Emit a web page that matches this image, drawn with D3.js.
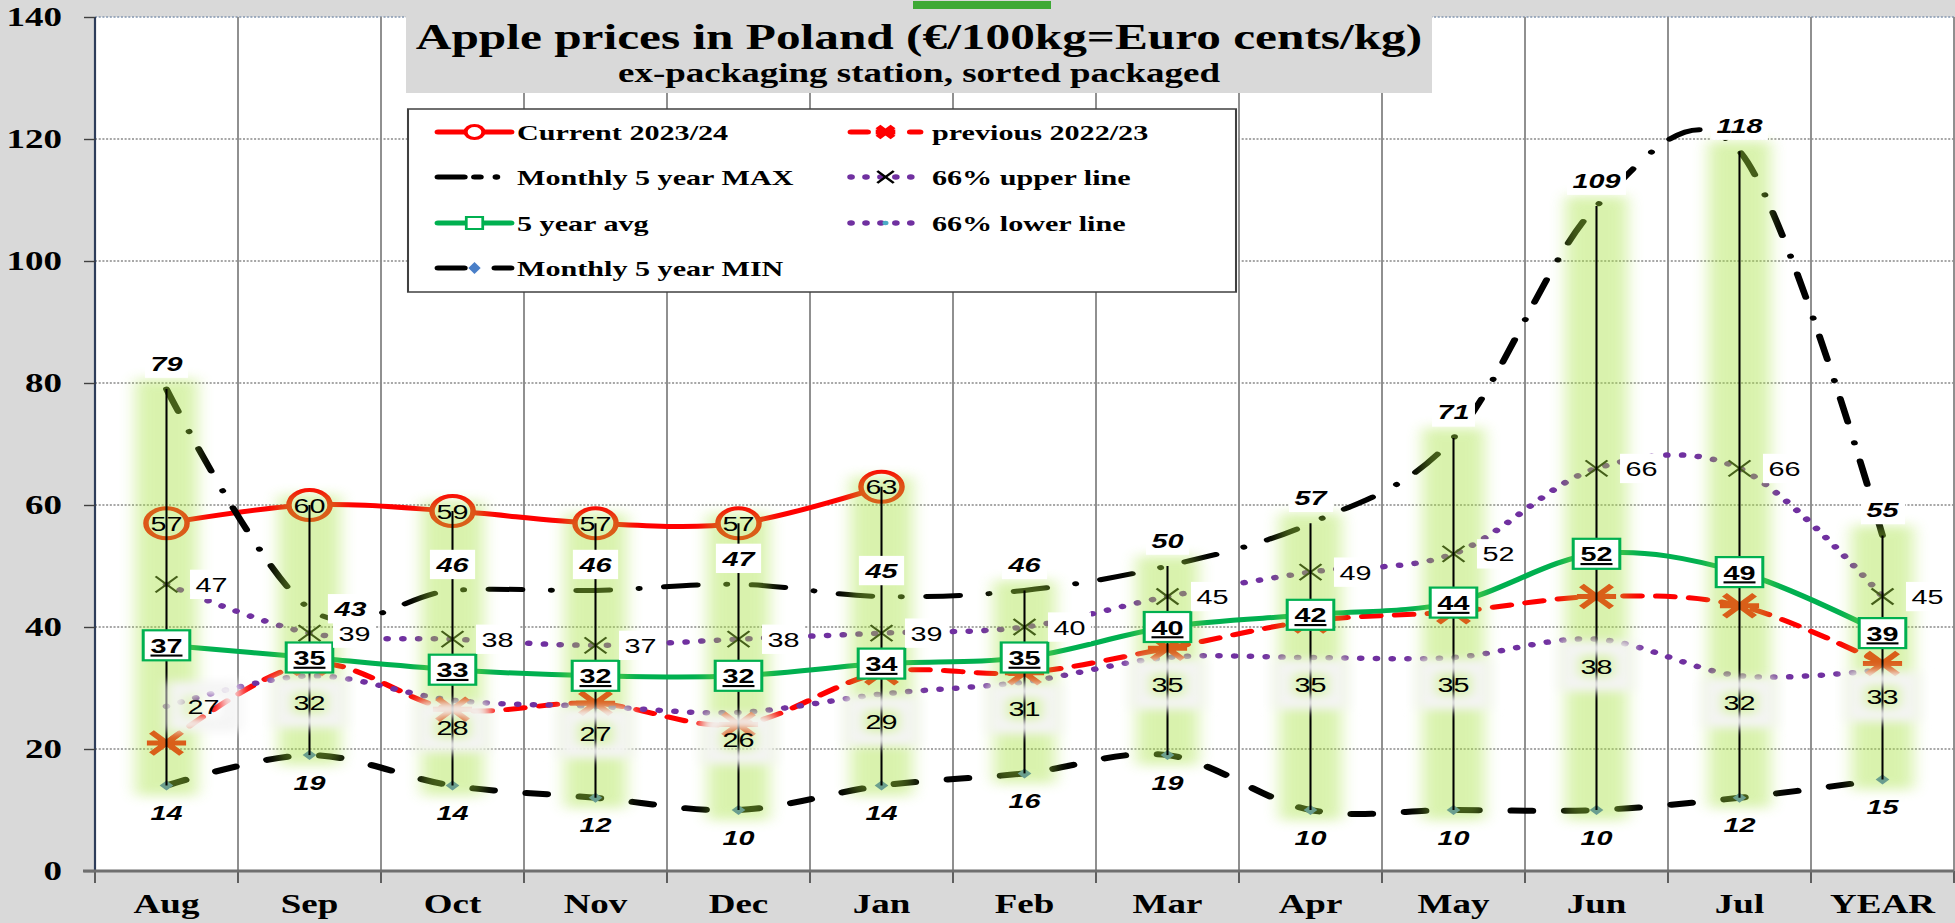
<!DOCTYPE html>
<html>
<head>
<meta charset="utf-8">
<script src="https://cdn.jsdelivr.net/npm/d3@7"></script>
<style>
  html, body { margin: 0; padding: 0; background: #d9d9d9; }
  svg { display: block; }
</style>
</head>
<body>
<svg id="chart"></svg>
<script>
// ---- data ----
const categories = ["Aug", "Sep", "Oct", "Nov", "Dec", "Jan", "Feb", "Mar", "Apr", "May", "Jun", "Jul", "YEAR"];
const current  = [57, 60, 59, 57, 57, 63, null, null, null, null, null, null, null];
const previous = [21, 34, 26.5, 27.5, 24, 32.5, 32.5, 36.5, 41, 42.5, 45, 43.5, 34];
const max5     = [79, 43, 46, 46, 47, 45, 46, 50, 57, 71, 109, 118, 55];
const avg5     = [37, 35, 33, 32, 32, 34, 35, 40, 42, 44, 52, 49, 39];
const min5     = [14, 19, 14, 12, 10, 14, 16, 19, 10, 10, 10, 12, 15];
const upper66  = [47, 39, 38, 37, 38, 39, 40, 45, 49, 52, 66, 66, 45];
const lower66  = [27, 32, 28, 27, 26, 29, 31, 35, 35, 35, 38, 32, 33];
const yTicks = [0, 20, 40, 60, 80, 100, 120, 140];

const titleText = "Apple prices in Poland (€/100kg=Euro cents/kg)";
const subtitleText = "ex-packaging station, sorted packaged";

// labels that sit to the right of their point instead of above/below
const maxRight = ["Sep"];
const lowerRight = ["Aug"];

// ---- layout ----
const W = 1955, H = 923;
const S = 1.37;              // the whole chart is stretched horizontally
const px = v => v / S;       // full-width pixels -> units inside the stretched group
const plotL = 95, plotR = 1954, plotT = 17, plotB = 871;
const serif = "'Liberation Serif','Times New Roman',serif";
const sans = "'Liberation Sans',Arial,sans-serif";

const svg = d3.select("#chart").attr("width", W).attr("height", H);
svg.append("rect").attr("width", W).attr("height", H).attr("fill", "#d9d9d9");

const defs = svg.append("defs");
defs.append("filter").attr("id", "glow")
  .attr("filterUnits", "userSpaceOnUse")
  .attr("x", 0).attr("y", 0).attr("width", px(W)).attr("height", H)
  .append("feGaussianBlur").attr("stdDeviation", "6 6");
defs.append("filter").attr("id", "halo")
  .attr("x", "-60%").attr("y", "-60%").attr("width", "220%").attr("height", "220%")
  .append("feGaussianBlur").attr("stdDeviation", "5 5");

const g = svg.append("g").attr("transform", `scale(${S},1)`);

const x = d3.scaleBand().domain(categories).range([px(plotL), px(plotR)]);
const cx = c => x(c) + x.bandwidth() / 2;
const y = d3.scaleLinear().domain([0, 140]).range([plotB, plotT]);

// plot area
g.append("rect")
  .attr("x", px(plotL)).attr("y", plotT)
  .attr("width", px(plotR - plotL)).attr("height", plotB - plotT)
  .attr("fill", "#fff");

// horizontal grid
g.append("g").selectAll("line")
  .data(yTicks.filter(t => t > 0))
  .join("line")
  .attr("x1", px(plotL)).attr("x2", px(plotR))
  .attr("y1", d => y(d)).attr("y2", d => y(d))
  .attr("stroke", d => d === 140 ? "#8497b0" : "#505050")
  .attr("stroke-width", d => d === 140 ? 1.6 : 1.1)
  .attr("stroke-dasharray", "1.5 1.2");

// vertical grid at category boundaries
const bounds = d3.range(categories.length + 1).map(i => x.range()[0] + i * x.step());
g.append("g").selectAll("line")
  .data(bounds.slice(1))
  .join("line")
  .attr("x1", d => d).attr("x2", d => d)
  .attr("y1", plotT).attr("y2", plotB)
  .attr("stroke", "#8c8c8c").attr("stroke-width", 1.4);

// left axis line
g.append("line")
  .attr("x1", px(plotL)).attr("x2", px(plotL))
  .attr("y1", plotT).attr("y2", plotB)
  .attr("stroke", "#2e3d5a").attr("stroke-width", 1.6);

// y axis
g.append("g")
  .attr("transform", `translate(${px(plotL)},0)`)
  .call(d3.axisLeft(y).tickValues(yTicks).tickSize(px(11)).tickPadding(px(22)))
  .call(a => a.select(".domain").remove())
  .call(a => a.selectAll("line").attr("stroke", "#404040").attr("stroke-width", 1.4))
  .call(a => a.selectAll("text")
    .attr("font-family", serif).attr("font-weight", "bold")
    .attr("font-size", 27).attr("fill", "#000"));

// x axis
g.append("g")
  .attr("transform", `translate(0,${plotB})`)
  .call(d3.axisBottom(x).tickSize(0).tickPadding(23))
  .call(a => a.select(".domain").remove())
  .call(a => a.selectAll("text")
    .attr("font-family", serif).attr("font-weight", "bold")
    .attr("font-size", 27).attr("fill", "#000"));
g.append("g").selectAll("line")
  .data(bounds)
  .join("line")
  .attr("x1", d => d).attr("x2", d => d)
  .attr("y1", plotB).attr("y2", plotB + 12)
  .attr("stroke", "#595959").attr("stroke-width", 1.4);
g.append("line")
  .attr("x1", px(plotL - 12)).attr("x2", px(plotR))
  .attr("y1", plotB).attr("y2", plotB)
  .attr("stroke", "#6f6f6f").attr("stroke-width", 3);

// title box over the plot
g.append("rect")
  .attr("x", px(406)).attr("y", 0)
  .attr("width", px(1432 - 406)).attr("height", 93)
  .attr("fill", "#d9d9d9");
g.append("rect")
  .attr("x", px(913)).attr("y", 1)
  .attr("width", px(1051 - 913)).attr("height", 8)
  .attr("fill", "#3ea935");

// ---- series lines ----
const lineGen = d3.line()
  .defined(d => d[1] != null)
  .x(d => cx(d[0])).y(d => y(d[1]))
  .curve(d3.curveCardinal.tension(0));
const pts = vals => categories.map((c, i) => [c, vals[i]]);

const lineStyles = [
  { vals: current,  color: "#ff0000", w: 5 },
  { vals: previous, color: "#ff0000", w: 5, dash: "13 11", cap: "round" },
  { vals: lower66,  color: "#7030a0", w: 5.5, dash: "0.1 11.4", cap: "round" },
  { vals: upper66,  color: "#7030a0", w: 5.5, dash: "0.1 11.4", cap: "round" },
  { vals: avg5,     color: "#00b050", w: 5 },
  { vals: max5,     color: "#000",    w: 5, dash: "24 21.5 0.1 18.5", cap: "round" },
  { vals: min5,     color: "#000",    w: 6, dash: "15 24", cap: "round" }
];
g.append("g").selectAll("path")
  .data(lineStyles)
  .join("path")
  .attr("d", d => lineGen(pts(d.vals)))
  .attr("fill", "none")
  .attr("stroke", d => d.color)
  .attr("stroke-width", d => d.w)
  .attr("stroke-dasharray", d => d.dash || null)
  .attr("stroke-linecap", d => d.cap || "butt");

// ---- markers ----
const markers = g.append("g");
markers.selectAll(".cur")
  .data(pts(current).filter(d => d[1] != null))
  .join("circle").attr("class", "cur")
  .attr("cx", d => cx(d[0])).attr("cy", d => y(d[1])).attr("r", 15)
  .attr("fill", "#fff").attr("stroke", "#ff0000").attr("stroke-width", 4);

const star = r => `M${-r},${-r}L${r},${r}M${-r},${r}L${r},${-r}M${-r * 1.3},0L${r * 1.3},0`;
markers.selectAll(".prev")
  .data(pts(previous))
  .join("path").attr("class", "prev")
  .attr("transform", d => `translate(${cx(d[0])},${y(d[1])})`)
  .attr("d", star(11))
  .attr("stroke", "#ff0000").attr("stroke-width", 5).attr("fill", "none");

const cross = r => `M${-r},${-r}L${r},${r}M${-r},${r}L${r},${-r}`;
markers.selectAll(".up")
  .data(pts(upper66))
  .join("path").attr("class", "up")
  .attr("transform", d => `translate(${cx(d[0])},${y(d[1])})`)
  .attr("d", cross(8))
  .attr("stroke", "#000").attr("stroke-width", 1.8).attr("fill", "none");

markers.selectAll(".mn")
  .data(pts(min5))
  .join("path").attr("class", "mn")
  .attr("transform", d => `translate(${cx(d[0])},${y(d[1])})`)
  .attr("d", "M0,-5L5,0L0,5L-5,0Z")
  .attr("fill", "#4472c4");

// ---- glow bands along the high-low lines ----
const allSeries = [current, previous, max5, avg5, min5, upper66, lower66];
const spans = categories.map((c, i) => {
  const v = allSeries.map(s => s[i]).filter(d => d != null);
  return { c, hi: d3.max(v), lo: d3.min(v) };
});
g.append("g")
  .attr("opacity", 0.42)
  .attr("filter", "url(#glow)")
  .selectAll("rect")
  .data(spans)
  .join("rect")
  .attr("x", d => cx(d.c) - px(31)).attr("width", px(62))
  .attr("y", d => y(d.hi) - 10).attr("height", d => y(d.lo) - y(d.hi) + 20)
  .attr("fill", "#a5e23c");

g.append("g").selectAll("line")
  .data(spans)
  .join("line")
  .attr("x1", d => cx(d.c)).attr("x2", d => cx(d.c))
  .attr("y1", d => y(d.hi)).attr("y2", d => y(d.lo))
  .attr("stroke", "#000").attr("stroke-width", 1.5);

// ---- data labels ----
const labels = g.append("g")
  .attr("font-family", sans).attr("font-size", 21).attr("fill", "#000")
  .attr("text-anchor", "middle");

function backBox(sel, fill, padX, padY) {
  sel.each(function () {
    const b = this.getBBox();
    d3.select(this.parentNode).insert("rect", () => this)
      .attr("x", b.x - padX).attr("y", b.y - padY)
      .attr("width", b.width + 2 * padX).attr("height", b.height + 2 * padY)
      .attr("fill", fill);
  });
}

// 66% lower: soft halo, transparent inside
const lowPos = d => lowerRight.includes(d[0])
  ? [cx(d[0]) + px(37), y(d[1])]
  : [cx(d[0]), y(d[1]) + 27];
const lowG = labels.append("g");
lowG.selectAll("rect")
  .data(pts(lower66))
  .join("rect")
  .attr("x", d => lowPos(d)[0] - 20).attr("y", d => lowPos(d)[1] - 18)
  .attr("width", 40).attr("height", 36)
  .attr("fill", "none").attr("stroke", "#f4f4f4").attr("stroke-width", 14)
  .attr("filter", "url(#halo)");
lowG.selectAll("text")
  .data(pts(lower66))
  .join("text")
  .attr("x", d => lowPos(d)[0]).attr("y", d => lowPos(d)[1])
  .attr("dy", "0.36em")
  .text(d => d3.format("d")(d[1]));

// current (inside the circles)
labels.append("g").selectAll("text")
  .data(pts(current).filter(d => d[1] != null))
  .join("text")
  .attr("x", d => cx(d[0])).attr("y", d => y(d[1]))
  .attr("dy", "0.36em")
  .text(d => d3.format("d")(d[1]));

// 5 year avg: boxed, bold, underlined
const avgG = labels.append("g");
avgG.selectAll("rect")
  .data(pts(avg5))
  .join("rect")
  .attr("x", d => cx(d[0]) - 17).attr("y", d => y(d[1]) - 15)
  .attr("width", 34).attr("height", 30)
  .attr("fill", "#fff").attr("stroke", "#00b050").attr("stroke-width", 2.2);
avgG.selectAll("text")
  .data(pts(avg5))
  .join("text")
  .attr("x", d => cx(d[0])).attr("y", d => y(d[1]))
  .attr("dy", "0.36em")
  .attr("font-weight", "bold")
  .attr("text-decoration", "underline")
  .text(d => d3.format("d")(d[1]));

// 66% upper: to the right, white background
const upG = labels.append("g");
upG.selectAll("text")
  .data(pts(upper66))
  .join("text")
  .attr("x", d => cx(d[0]) + px(45)).attr("y", d => y(d[1]))
  .attr("dy", "0.36em")
  .text(d => d3.format("d")(d[1]))
  .call(backBox, "#fff", 4, 3);

// max: bold italic, above (or right), white background
const maxG = labels.append("g");
maxG.selectAll("text")
  .data(pts(max5))
  .join("text")
  .attr("x", d => maxRight.includes(d[0]) ? cx(d[0]) + px(41) : cx(d[0]))
  .attr("y", d => maxRight.includes(d[0]) ? y(d[1]) : y(d[1]) - 26)
  .attr("dy", "0.36em")
  .attr("font-weight", "bold").attr("font-style", "italic")
  .text(d => d3.format("d")(d[1]))
  .call(backBox, "#fff", 4, 3);

// min: bold italic, below
labels.append("g").selectAll("text")
  .data(pts(min5))
  .join("text")
  .attr("x", d => cx(d[0])).attr("y", d => y(d[1]) + 27)
  .attr("dy", "0.36em")
  .attr("font-weight", "bold").attr("font-style", "italic")
  .text(d => d3.format("d")(d[1]));

// ---- title ----
g.append("text")
  .attr("x", px(919)).attr("y", 49)
  .attr("text-anchor", "middle")
  .attr("font-family", serif).attr("font-weight", "bold").attr("font-size", 36)
  .text(titleText);
g.append("text")
  .attr("x", px(919)).attr("y", 82)
  .attr("text-anchor", "middle")
  .attr("font-family", serif).attr("font-weight", "bold").attr("font-size", 27)
  .text(subtitleText);

// ---- legend ----
const legend = g.append("g");
legend.append("rect")
  .attr("x", px(408)).attr("y", 109)
  .attr("width", px(1236 - 408)).attr("height", 292 - 109)
  .attr("fill", "#fff").attr("stroke", "#404040").attr("stroke-width", 1.5);

const rows = [132, 177, 223, 268];
const cols = [
  { x0: px(438), x1: px(511), tx: px(517) },
  { x0: px(851), x1: px(920), tx: px(932) }
];
const legendItems = [
  { name: "Current 2023/24",     kind: "current",  col: 0, row: 0 },
  { name: "previous 2022/23",    kind: "previous", col: 1, row: 0 },
  { name: "Monthly 5 year MAX",  kind: "max",      col: 0, row: 1 },
  { name: "66% upper line",      kind: "upper",    col: 1, row: 1 },
  { name: "5 year avg",          kind: "avg",      col: 0, row: 2 },
  { name: "66% lower line",      kind: "lower",    col: 1, row: 2 },
  { name: "Monthly 5 year MIN",  kind: "min",      col: 0, row: 3 }
];

function seg(sel, a, b, yc, color, w, dash) {
  sel.append("line")
    .attr("x1", a).attr("x2", b).attr("y1", yc).attr("y2", yc)
    .attr("stroke", color).attr("stroke-width", w)
    .attr("stroke-linecap", "round")
    .attr("stroke-dasharray", dash || null);
}

legendItems.forEach(it => {
  const c = cols[it.col], yc = rows[it.row];
  const L = c.x1 - c.x0, m = (c.x0 + c.x1) / 2;
  const s = legend.append("g");
  if (it.kind === "current") {
    seg(s, c.x0, c.x1, yc, "#ff0000", 5);
    s.append("circle").attr("cx", m).attr("cy", yc).attr("r", 6.5)
      .attr("fill", "#fff").attr("stroke", "#ff0000").attr("stroke-width", 3);
  } else if (it.kind === "previous") {
    seg(s, c.x0, c.x0 + 0.24 * L, yc, "#ff0000", 5);
    s.append("path").attr("transform", `translate(${c.x0 + 0.5 * L},${yc})`)
      .attr("d", star(5.5)).attr("stroke", "#ff0000").attr("stroke-width", 5).attr("fill", "none");
    seg(s, c.x0 + 0.86 * L, c.x1, yc, "#ff0000", 5);
  } else if (it.kind === "max") {
    seg(s, c.x0, c.x0 + 0.36 * L, yc, "#000", 5);
    seg(s, c.x0 + 0.5 * L, c.x0 + 0.58 * L, yc, "#000", 5);
    s.append("circle").attr("cx", c.x0 + 0.8 * L).attr("cy", yc).attr("r", 2.8).attr("fill", "#000");
  } else if (it.kind === "upper") {
    seg(s, c.x0, c.x1, yc, "#7030a0", 5.5, "0.1 10.8");
    s.append("path").attr("transform", `translate(${m},${yc})`)
      .attr("d", cross(6)).attr("stroke", "#000").attr("stroke-width", 2).attr("fill", "none");
  } else if (it.kind === "avg") {
    seg(s, c.x0, c.x1, yc, "#00b050", 5);
    s.append("rect").attr("x", m - 6).attr("y", yc - 6).attr("width", 12).attr("height", 12)
      .attr("fill", "#fff").attr("stroke", "#00b050").attr("stroke-width", 2);
  } else if (it.kind === "lower") {
    seg(s, c.x0, c.x1, yc, "#7030a0", 5.5, "0.1 10.8");
    s.append("circle").attr("cx", m).attr("cy", yc).attr("r", 2.2).attr("fill", "#4bacc6");
  } else if (it.kind === "min") {
    seg(s, c.x0, c.x0 + 0.36 * L, yc, "#000", 5);
    s.append("path").attr("transform", `translate(${c.x0 + 0.5 * L},${yc})`)
      .attr("d", "M0,-6L4.5,0L0,6L-4.5,0Z").attr("fill", "#4a7fc8");
    seg(s, c.x0 + 0.78 * L, c.x1, yc, "#000", 5);
  }
  s.append("text")
    .attr("x", c.tx).attr("y", yc + 8)
    .attr("font-family", serif).attr("font-weight", "bold").attr("font-size", 22)
    .text(it.name);
});
</script>
</body>
</html>
